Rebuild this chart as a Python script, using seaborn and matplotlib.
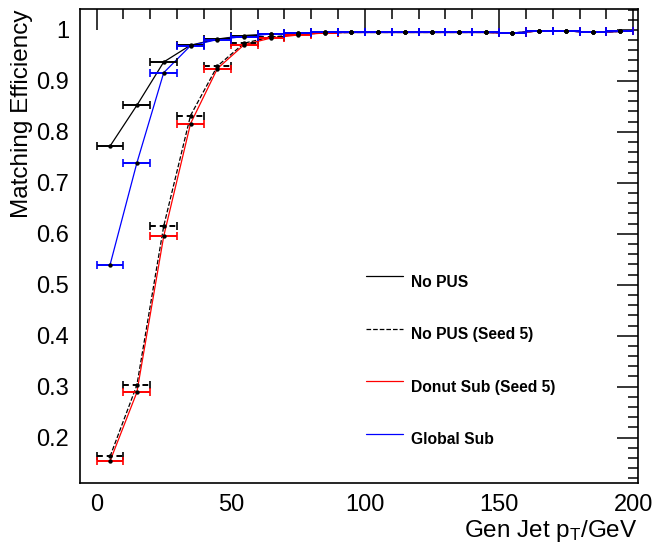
import numpy as np
import pandas as pd
import seaborn as sns
import matplotlib
matplotlib.use("Agg")
import matplotlib.pyplot as plt
from matplotlib.lines import Line2D
from matplotlib.ticker import MultipleLocator
from matplotlib.legend_handler import HandlerLine2D

# ---- data ----
pt_centers = [5, 15, 25, 35, 45, 55, 65, 75, 85, 95, 105, 115, 125, 135, 145, 155, 165, 175, 185, 195]
bin_half_width = 5
no_pus = [0.772, 0.852, 0.937, 0.970, 0.982, 0.989, 0.992, 0.993, 0.995, 0.995,
          0.995, 0.995, 0.995, 0.995, 0.995, 0.994, 0.998, 0.998, 0.995, 0.997]
no_pus_seed5 = [0.163, 0.303, 0.615, 0.832, 0.929, 0.974, 0.986, 0.991, 0.994, 0.995,
                0.995, 0.995, 0.995, 0.995, 0.995, 0.994, 0.998, 0.998, 0.995, 0.997]
donut_sub = [0.154, 0.289, 0.595, 0.816, 0.924, 0.971, 0.984, 0.990, 0.994, 0.995,
             0.995, 0.995, 0.995, 0.995, 0.995, 0.993, 0.998, 0.998, 0.995, 0.997]
global_sub = [0.539, 0.739, 0.916, 0.969, 0.981, 0.987, 0.992, 0.993, 0.995, 0.995,
              0.995, 0.995, 0.995, 0.995, 0.995, 0.994, 0.998, 0.998, 0.995, 0.997]
series_names = ["No PUS", "No PUS (Seed 5)", "Donut Sub (Seed 5)", "Global Sub"]
series_values = [no_pus, no_pus_seed5, donut_sub, global_sub]
series_colors = ["black", "black", "red", "blue"]
series_styles = ["-", "--", "-", "-"]
y_tick_values = [0.2, 0.3, 0.4, 0.5, 0.6, 0.7, 0.8, 0.9, 1.0]
y_tick_labels = ["0.2", "0.3", "0.4", "0.5", "0.6", "0.7", "0.8", "0.9", "1"]

sns.set_style("white")
plt.rcParams['font.family'] = ['Liberation Sans', 'DejaVu Sans']
plt.rcParams['mathtext.fontset'] = 'custom'
plt.rcParams['mathtext.rm'] = 'Liberation Sans'
plt.rcParams['mathtext.it'] = 'Liberation Sans:italic'
plt.rcParams['text.color'] = 'black'
plt.rcParams['axes.labelcolor'] = 'black'
plt.rcParams['xtick.color'] = 'black'
plt.rcParams['ytick.color'] = 'black'

df = pd.DataFrame({
    "pt": np.tile(pt_centers, len(series_names)),
    "eff": np.concatenate(series_values),
    "series": np.repeat(series_names, len(pt_centers)),
})

fig = plt.figure(figsize=(6.52, 5.51), dpi=100)
ax = fig.add_axes([80/652, 1-483/551, (638-80)/652, (483-9)/551])

for name, col, ls in zip(series_names, series_colors, series_styles):
    sub = df[df.series == name]
    sns.lineplot(data=sub, x="pt", y="eff", ax=ax, color=col, linestyle=ls,
                 linewidth=0.9, legend=False, zorder=3)
    eb = ax.errorbar(sub.pt, sub.eff, xerr=bin_half_width, fmt='none', ecolor=col,
                     elinewidth=1.4, capsize=3, capthick=1.2, zorder=4)
    if ls == "--":
        for lc in eb[2]:
            lc.set_linestyle((0, (3, 2)))
    ax.scatter(sub.pt, sub.eff, s=10, color="black", zorder=5, linewidths=0)

ax.set_xlim(-6.2, 201.8)
ax.set_ylim(0.111, 1.041)

for s in ax.spines.values():
    s.set_color("black")
    s.set_linewidth(1.2)

ax.xaxis.set_major_locator(MultipleLocator(50))
ax.xaxis.set_minor_locator(MultipleLocator(10))
ax.yaxis.set_minor_locator(MultipleLocator(0.02))
ax.set_yticks(y_tick_values)
ax.set_yticklabels(y_tick_labels)
ax.tick_params(which='both', direction='in', top=True, right=True, color='black',
               width=1.1, labelcolor='black')
ax.tick_params(which='major', length=15, labelsize=17, pad=8)
ax.tick_params(which='minor', length=7.5)

ax.set_xlabel(r"Gen Jet p$_\mathrm{T}$/GeV", fontsize=17.5, ha='right', x=1.0)
ax.set_ylabel("Matching Efficiency", fontsize=17.5, ha='right', y=1.0)
ax.xaxis.set_label_coords(1.0, -0.074)
ax.yaxis.set_label_coords(-0.084, 1.0)


class RaisedLine(HandlerLine2D):
    def create_artists(self, legend, orig_handle, xdescent, ydescent, width,
                       height, fontsize, trans):
        arts = super().create_artists(legend, orig_handle, xdescent, ydescent,
                                      width, height, fontsize, trans)
        for a in arts:
            a.set_ydata(np.asarray(a.get_ydata(), dtype=float) + 0.33 * fontsize)
        return arts


handles = [Line2D([0], [0], color=c, linestyle=ls, linewidth=0.9)
           for c, ls in zip(series_colors, series_styles)]
leg = ax.legend(handles, series_names, loc='upper left', frameon=False,
                bbox_to_anchor=(358/652, 1-267/551), bbox_transform=fig.transFigure,
                prop={'weight': 'bold', 'size': 11.25}, handlelength=2.4,
                handletextpad=0.5, labelspacing=2.4, borderpad=0,
                handler_map={Line2D: RaisedLine()})

fig.savefig("out.png", dpi=100)
